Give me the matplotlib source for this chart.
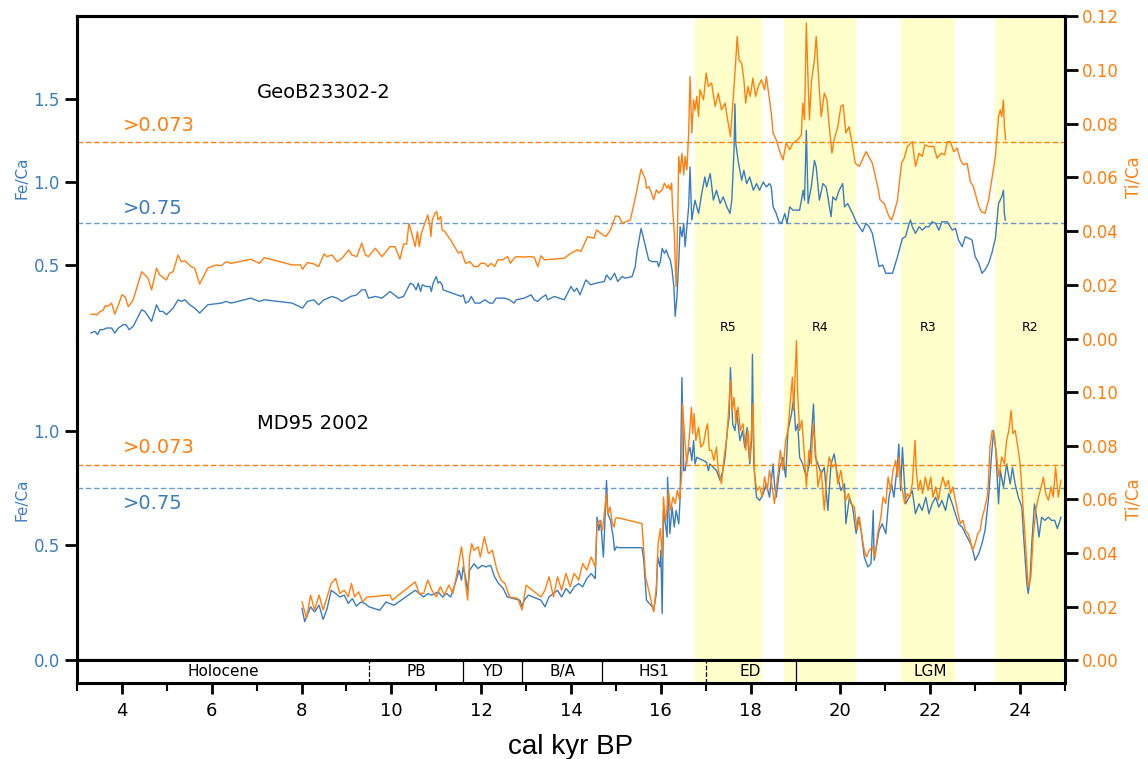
import matplotlib.pyplot as plt
from matplotlib.transforms import blended_transform_factory

BLUE = '#3a7dbd'
ORANGE = '#ff7f0e'

# GeoB23302-2, Fe/Ca
geob_fe_age = [3.31, 3.40, 3.46, 3.51, 3.58, 3.66, 3.77, 3.84, 3.92, 4.03, 4.09, 4.16, 4.25, 4.44, 4.51,
               4.66, 4.77, 4.84, 4.91, 4.99, 5.14, 5.25, 5.32, 5.40, 5.51, 5.62, 5.73, 5.91, 6.21, 6.32,
               6.43, 6.87, 7.06, 7.17, 7.79, 8.02, 8.13, 8.27, 8.38, 8.50, 8.68, 8.79, 8.90, 9.09, 9.23,
               9.34, 9.42, 9.49, 9.64, 9.79, 9.97, 10.16, 10.27, 10.42, 10.49, 10.55, 10.60, 10.65, 10.69,
               10.78, 10.86, 10.89, 10.93, 11.00, 11.04, 11.08, 11.13, 11.15, 11.56, 11.60, 11.65, 11.72,
               11.78, 11.86, 11.97, 12.08, 12.19, 12.26, 12.33, 12.52, 12.63, 12.73, 12.78, 12.96, 13.11,
               13.18, 13.26, 13.33, 13.44, 13.48, 13.63, 13.85, 14.00, 14.07, 14.13, 14.20, 14.33, 14.44,
               14.55, 14.74, 14.79, 14.88, 14.97, 15.04, 15.14, 15.21, 15.36, 15.43, 15.47, 15.56, 15.66,
               15.73, 15.80, 15.92, 15.95, 15.99, 16.03, 16.08, 16.12, 16.17, 16.21, 16.25, 16.29, 16.32,
               16.36, 16.40, 16.43, 16.47, 16.51, 16.54, 16.58, 16.62, 16.65, 16.69, 16.76, 16.84, 16.91,
               16.98, 17.02, 17.10, 17.17, 17.24, 17.32, 17.39, 17.47, 17.54, 17.58, 17.63, 17.65, 17.67,
               17.72, 17.80, 17.85, 17.91, 17.98, 18.06, 18.13, 18.20, 18.28, 18.35, 18.42, 18.46, 18.50,
               18.57, 18.63, 18.69, 18.76, 18.81, 18.87, 18.94, 19.09, 19.17, 19.20, 19.24, 19.28, 19.35,
               19.42, 19.46, 19.53, 19.61, 19.68, 19.72, 19.79, 19.83, 19.90, 19.97, 20.05, 20.09, 20.16,
               20.27, 20.35, 20.42, 20.49, 20.57, 20.64, 20.71, 20.80, 20.86, 20.94, 21.01, 21.16, 21.27,
               21.38, 21.45, 21.53, 21.56, 21.60, 21.67, 21.75, 21.82, 21.90, 21.97, 22.04, 22.12, 22.19,
               22.26, 22.38, 22.49, 22.56, 22.63, 22.71, 22.78, 22.86, 22.93, 23.00, 23.08, 23.15, 23.22,
               23.30, 23.37, 23.45, 23.52, 23.59, 23.63, 23.65, 23.67]
geob_fe = [0.09, 0.10, 0.08, 0.11, 0.11, 0.12, 0.12, 0.09, 0.12, 0.14, 0.14, 0.11, 0.13, 0.23, 0.22,
           0.16, 0.26, 0.22, 0.22, 0.20, 0.24, 0.29, 0.28, 0.29, 0.26, 0.24, 0.21, 0.26, 0.27, 0.28,
           0.27, 0.30, 0.28, 0.29, 0.27, 0.24, 0.28, 0.29, 0.26, 0.29, 0.31, 0.30, 0.28, 0.31, 0.32,
           0.35, 0.35, 0.30, 0.31, 0.30, 0.34, 0.30, 0.31, 0.39, 0.38, 0.35, 0.39, 0.34, 0.38,
           0.37, 0.37, 0.34, 0.39, 0.43, 0.39, 0.40, 0.38, 0.35, 0.31, 0.32, 0.27, 0.28,
           0.31, 0.27, 0.27, 0.29, 0.27, 0.27, 0.30, 0.30, 0.29, 0.27, 0.29, 0.30, 0.32,
           0.29, 0.28, 0.30, 0.32, 0.29, 0.31, 0.29, 0.37, 0.34, 0.36, 0.32, 0.41, 0.38,
           0.39, 0.40, 0.44, 0.41, 0.45, 0.40, 0.43, 0.42, 0.43, 0.49, 0.58, 0.72, 0.61,
           0.53, 0.52, 0.52, 0.49, 0.52, 0.60, 0.57, 0.59, 0.55, 0.53, 0.47, 0.37, 0.19,
           0.31, 0.53, 0.73, 0.67, 0.75, 0.61, 0.73, 0.85, 1.09, 0.77, 0.89, 0.81, 0.93,
           1.03, 0.97, 1.05, 0.89, 0.95, 0.87, 0.91, 0.85, 0.81, 0.89, 1.19, 1.47, 1.23,
           1.13, 1.01, 1.07, 0.99, 1.03, 0.95, 0.99, 0.95, 1.00, 0.97, 0.99, 0.97, 0.85,
           0.81, 0.76, 0.75, 0.81, 0.75, 0.85, 0.83, 0.83, 0.95, 0.89, 1.31, 0.87, 0.97,
           1.13, 1.09, 0.89, 0.99, 0.97, 0.91, 0.79, 0.91, 0.89, 0.95, 0.99, 0.85, 0.87,
           0.81, 0.76, 0.73, 0.70, 0.75, 0.73, 0.69, 0.57, 0.49, 0.50, 0.45, 0.45, 0.55,
           0.66, 0.67, 0.75, 0.77, 0.73, 0.69, 0.73, 0.71, 0.73, 0.73, 0.76, 0.75, 0.71,
           0.76, 0.76, 0.71, 0.72, 0.65, 0.61, 0.67, 0.66, 0.65, 0.55, 0.51, 0.45, 0.47,
           0.51, 0.57, 0.66, 0.87, 0.91, 0.95, 0.81, 0.77]

# GeoB23302-2, Ti/Ca
geob_ti_age = [3.31, 3.40, 3.44, 3.51, 3.59, 3.62, 3.70, 3.77, 3.84, 3.92, 4.00, 4.07, 4.14, 4.25, 4.44,
               4.58, 4.66, 4.77, 4.84, 4.99, 5.06, 5.14, 5.25, 5.32, 5.40, 5.54, 5.62, 5.73, 5.91, 6.10,
               6.21, 6.32, 6.43, 6.87, 7.06, 7.17, 7.79, 7.98, 8.02, 8.13, 8.27, 8.38, 8.50, 8.57, 8.68,
               8.79, 8.90, 9.05, 9.12, 9.23, 9.34, 9.42, 9.49, 9.64, 9.79, 9.97, 10.08, 10.19, 10.27,
               10.34, 10.39, 10.45, 10.53, 10.58, 10.62, 10.67, 10.75, 10.81, 10.86, 10.88, 10.91, 10.97,
               11.01, 11.04, 11.10, 11.13, 11.19, 11.34, 11.49, 11.56, 11.65, 11.75, 11.84, 11.93, 11.99,
               12.08, 12.15, 12.22, 12.30, 12.37, 12.48, 12.59, 12.65, 12.75, 12.85, 12.93, 13.07, 13.18,
               13.26, 13.33, 13.41, 13.85, 14.00, 14.14, 14.22, 14.37, 14.51, 14.57, 14.66, 14.77, 14.88,
               14.99, 15.07, 15.14, 15.32, 15.43, 15.56, 15.66, 15.68, 15.73, 15.78, 15.84, 15.90, 15.95,
               16.03, 16.08, 16.14, 16.17, 16.21, 16.24, 16.26, 16.30, 16.34, 16.36, 16.40, 16.43, 16.47,
               16.51, 16.54, 16.58, 16.62, 16.65, 16.69, 16.73, 16.76, 16.80, 16.84, 16.87, 16.95, 17.01,
               17.06, 17.13, 17.21, 17.28, 17.35, 17.43, 17.50, 17.55, 17.61, 17.66, 17.70, 17.74, 17.80,
               17.85, 17.89, 17.94, 17.99, 18.05, 18.11, 18.17, 18.24, 18.31, 18.35, 18.42, 18.46, 18.50,
               18.57, 18.65, 18.72, 18.79, 18.87, 18.94, 19.05, 19.13, 19.16, 19.20, 19.24, 19.28, 19.31,
               19.35, 19.42, 19.46, 19.50, 19.53, 19.57, 19.64, 19.70, 19.75, 19.81, 19.86, 19.94, 20.01,
               20.06, 20.12, 20.19, 20.27, 20.33, 20.42, 20.57, 20.71, 20.83, 20.88, 20.97, 21.08, 21.14,
               21.19, 21.27, 21.36, 21.42, 21.49, 21.60, 21.67, 21.75, 21.82, 21.88, 21.97, 22.08, 22.15,
               22.25, 22.32, 22.38, 22.45, 22.52, 22.60, 22.67, 22.74, 22.82, 22.89, 22.96, 23.08, 23.14,
               23.22, 23.30, 23.37, 23.45, 23.52, 23.56, 23.59, 23.63, 23.65, 23.68]
geob_ti = [0.0092, 0.0092, 0.0089, 0.0101, 0.0108, 0.0123, 0.0123, 0.0133, 0.0092, 0.0126, 0.0164, 0.0157,
           0.0120, 0.0145, 0.0250, 0.0226, 0.0182, 0.0263, 0.0238, 0.0219, 0.0244, 0.0250, 0.0312, 0.0287,
           0.0290, 0.0269, 0.0263, 0.0204, 0.0263, 0.0275, 0.0272, 0.0287, 0.0281, 0.0296, 0.0281, 0.0302,
           0.0275, 0.0275, 0.0259, 0.0284, 0.0279, 0.0269, 0.0316, 0.0306, 0.0312, 0.0287, 0.0300, 0.0331,
           0.0312, 0.0306, 0.0356, 0.0312, 0.0306, 0.0337, 0.0306, 0.0343, 0.0343, 0.0296, 0.0353, 0.0352,
           0.0430, 0.0393, 0.0343, 0.0399, 0.0343, 0.0393, 0.0432, 0.0461, 0.0417, 0.0380, 0.0442, 0.0467,
           0.0473, 0.0442, 0.0455, 0.0405, 0.0399, 0.0362, 0.0319, 0.0325, 0.0281, 0.0287, 0.0269, 0.0269,
           0.0281, 0.0281, 0.0269, 0.0281, 0.0269, 0.0294, 0.0294, 0.0306, 0.0281, 0.0304, 0.0306, 0.0304,
           0.0306, 0.0304, 0.0269, 0.0309, 0.0294, 0.0300, 0.0319, 0.0331, 0.0325, 0.0380, 0.0374, 0.0405,
           0.0393, 0.0380, 0.0405, 0.0457, 0.0455, 0.0430, 0.0442, 0.0523, 0.0631, 0.0591, 0.0560, 0.0566,
           0.0548, 0.0517, 0.0554, 0.0542, 0.0554, 0.0579, 0.0560, 0.0572, 0.0554, 0.0579, 0.0492, 0.0393,
           0.0194, 0.0319, 0.0678, 0.0616, 0.0690, 0.0610, 0.0678, 0.0628, 0.0765, 0.0975, 0.0765, 0.0888,
           0.0851, 0.0901, 0.0826, 0.0926, 0.0888, 0.0988, 0.0938, 0.0951, 0.0864, 0.0913, 0.0851, 0.0876,
           0.0802, 0.0752, 0.0888, 0.1012, 0.1124, 0.1037, 0.1025, 0.0963, 0.0876, 0.0938, 0.0901, 0.0969,
           0.0901, 0.0938, 0.0963, 0.0926, 0.0975, 0.0888, 0.0839, 0.0765, 0.0740, 0.0696, 0.0665, 0.0728,
           0.0703, 0.0728, 0.0740, 0.0758, 0.0876, 0.0814, 0.1174, 0.0951, 0.0814, 0.0951, 0.1037, 0.1124,
           0.1012, 0.0926, 0.0826, 0.0913, 0.0888, 0.0789, 0.0690, 0.0740, 0.0789, 0.0864, 0.0870, 0.0765,
           0.0789, 0.0715, 0.0653, 0.0641, 0.0696, 0.0653, 0.0566, 0.0517, 0.0504, 0.0455, 0.0442, 0.0467,
           0.0517, 0.0653, 0.0672, 0.0715, 0.0733, 0.0641, 0.0690, 0.0678, 0.0721, 0.0715, 0.0715, 0.0672,
           0.0690, 0.0684, 0.0733, 0.0733, 0.0696, 0.0709, 0.0665, 0.0647, 0.0653, 0.0585, 0.0566, 0.0492,
           0.0473, 0.0467, 0.0517, 0.0591, 0.0678, 0.0826, 0.0851, 0.0826, 0.0888, 0.0789, 0.0740]

# MD95 2002, Fe/Ca
md_fe_age = [8.01, 8.07, 8.20, 8.29, 8.39, 8.48, 8.57, 8.66, 8.76, 8.85, 8.95, 9.04, 9.13, 9.22, 9.32,
             9.41, 9.50, 9.74, 9.88, 10.06, 10.53, 10.72, 10.81, 10.90, 11.04, 11.14, 11.23, 11.32, 11.42,
             11.51, 11.56, 11.60, 11.65, 11.70, 11.74, 11.84, 11.93, 12.02, 12.11, 12.21, 12.30, 12.39,
             12.49, 12.58, 12.72, 12.86, 12.91, 12.96, 13.05, 13.33, 13.42, 13.51, 13.61, 13.70, 13.79,
             13.89, 13.98, 14.07, 14.17, 14.26, 14.35, 14.45, 14.54, 14.58, 14.62, 14.66, 14.72, 14.75,
             14.79, 14.82, 14.88, 14.94, 14.97, 15.01, 15.07, 15.58, 15.62, 15.68, 15.81, 15.84, 15.90,
             15.93, 15.98, 16.00, 16.03, 16.06, 16.10, 16.14, 16.15, 16.20, 16.25, 16.30, 16.34, 16.40,
             16.43, 16.47, 16.51, 16.54, 16.58, 16.65, 16.69, 16.73, 16.76, 16.80, 16.87, 16.95, 17.02,
             17.06, 17.09, 17.17, 17.24, 17.32, 17.38, 17.43, 17.48, 17.52, 17.55, 17.60, 17.65, 17.69,
             17.76, 17.82, 17.87, 17.92, 17.98, 18.02, 18.04, 18.07, 18.13, 18.20, 18.28, 18.35, 18.42,
             18.50, 18.53, 18.57, 18.65, 18.72, 18.78, 18.83, 18.91, 18.96, 19.00, 19.05, 19.09, 19.16,
             19.24, 19.31, 19.40, 19.44, 19.50, 19.57, 19.64, 19.72, 19.79, 19.86, 19.94, 20.01, 20.09,
             20.12, 20.20, 20.27, 20.35, 20.40, 20.46, 20.53, 20.61, 20.68, 20.73, 20.75, 20.80, 20.86,
             20.93, 21.01, 21.08, 21.14, 21.19, 21.27, 21.30, 21.34, 21.38, 21.45, 21.53, 21.60, 21.67,
             21.75, 21.82, 21.90, 21.97, 22.04, 22.12, 22.19, 22.26, 22.34, 22.41, 22.49, 22.56, 22.63,
             22.71, 22.78, 22.86, 22.93, 23.00, 23.08, 23.15, 23.22, 23.30, 23.36, 23.41, 23.46, 23.52,
             23.56, 23.63, 23.70, 23.78, 23.83, 23.89, 23.96, 24.04, 24.07, 24.11, 24.15, 24.18, 24.22,
             24.26, 24.32, 24.37, 24.42, 24.48, 24.55, 24.63, 24.70, 24.77, 24.83, 24.91]
md_fe = [0.225, 0.167, 0.232, 0.210, 0.239, 0.177, 0.225, 0.304, 0.290, 0.275, 0.283, 0.247, 0.268, 0.235,
         0.253, 0.247, 0.232, 0.217, 0.253, 0.239, 0.304, 0.275, 0.290, 0.283, 0.297, 0.275, 0.290, 0.275,
         0.333, 0.391, 0.348, 0.406, 0.362, 0.304, 0.391, 0.420, 0.399, 0.413, 0.406, 0.413, 0.362, 0.333,
         0.312, 0.275, 0.268, 0.261, 0.232, 0.261, 0.283, 0.261, 0.232, 0.275, 0.290, 0.304, 0.275, 0.312,
         0.290, 0.319, 0.333, 0.319, 0.355, 0.377, 0.355, 0.623, 0.565, 0.609, 0.449, 0.580, 0.783, 0.638,
         0.609, 0.536, 0.478, 0.493, 0.490, 0.490, 0.435, 0.261, 0.232, 0.217, 0.290, 0.449, 0.406, 0.478,
         0.203, 0.652, 0.594, 0.536, 0.797, 0.551, 0.667, 0.580, 0.652, 0.594, 0.710, 1.232, 0.826, 0.826,
         0.884, 0.927, 0.870, 0.957, 0.855, 0.884, 0.877, 0.870, 0.862, 0.826, 0.855, 0.840, 0.826, 0.783,
         0.826, 0.884, 1.000, 1.058, 1.275, 1.029, 1.000, 1.087, 0.957, 1.000, 0.927, 1.014, 0.855, 0.957,
         1.333, 0.855, 0.710, 0.696, 0.725, 0.768, 0.710, 0.855, 0.768, 0.710, 0.840, 0.884, 0.797, 1.000,
         1.073, 1.145, 1.000, 1.029, 0.884, 0.855, 0.797, 0.855, 1.116, 0.884, 0.855, 0.812, 0.840, 0.652,
         0.855, 0.899, 0.797, 0.739, 0.768, 0.594, 0.710, 0.667, 0.551, 0.623, 0.565, 0.449, 0.406, 0.420,
         0.652, 0.435, 0.493, 0.565, 0.594, 0.551, 0.710, 0.768, 0.710, 0.855, 0.942, 0.739, 0.927, 0.681,
         0.710, 0.739, 0.638, 0.681, 0.652, 0.710, 0.638, 0.681, 0.710, 0.667, 0.696, 0.652, 0.725, 0.681,
         0.638, 0.594, 0.580, 0.551, 0.522, 0.493, 0.435, 0.464, 0.507, 0.565, 0.710, 0.884, 1.000, 0.913,
         0.681, 0.826, 0.753, 0.855, 0.768, 0.840, 0.768, 0.710, 0.667, 0.565, 0.449, 0.333, 0.290, 0.348,
         0.507, 0.681, 0.623, 0.536, 0.623, 0.609, 0.623, 0.609, 0.609, 0.573, 0.623]

# MD95 2002, Ti/Ca
md_ti_age = [8.01, 8.11, 8.20, 8.29, 8.39, 8.48, 8.57, 8.66, 8.76, 8.85, 8.95, 9.04, 9.11, 9.18, 9.27,
             9.36, 9.46, 9.50, 9.97, 10.02, 10.53, 10.62, 10.72, 10.81, 10.90, 11.00, 11.09, 11.18, 11.28,
             11.37, 11.46, 11.56, 11.60, 11.65, 11.70, 11.74, 11.79, 11.84, 11.93, 11.98, 12.07, 12.16,
             12.25, 12.35, 12.44, 12.53, 12.63, 12.81, 12.91, 13.00, 13.14, 13.33, 13.42, 13.51, 13.61,
             13.70, 13.79, 13.89, 13.98, 14.07, 14.17, 14.26, 14.35, 14.45, 14.54, 14.58, 14.64, 14.70,
             14.75, 14.79, 14.82, 14.87, 14.92, 14.96, 14.99, 15.03, 15.58, 15.66, 15.73, 15.84, 15.90,
             15.94, 15.99, 16.03, 16.06, 16.10, 16.14, 16.17, 16.22, 16.27, 16.32, 16.37, 16.42, 16.47,
             16.48, 16.54, 16.58, 16.64, 16.68, 16.71, 16.74, 16.78, 16.84, 16.89, 16.95, 17.00, 17.04,
             17.08, 17.13, 17.18, 17.24, 17.28, 17.35, 17.41, 17.47, 17.50, 17.55, 17.59, 17.63, 17.67,
             17.72, 17.77, 17.83, 17.89, 17.94, 17.98, 18.02, 18.05, 18.09, 18.14, 18.20, 18.26, 18.31,
             18.37, 18.42, 18.48, 18.53, 18.61, 18.66, 18.72, 18.78, 18.83, 18.89, 18.93, 18.96, 19.00,
             19.02, 19.05, 19.09, 19.14, 19.20, 19.24, 19.30, 19.35, 19.39, 19.44, 19.50, 19.57, 19.64,
             19.70, 19.75, 19.83, 19.89, 19.94, 20.01, 20.06, 20.12, 20.18, 20.23, 20.31, 20.37, 20.42,
             20.48, 20.53, 20.58, 20.64, 20.71, 20.77, 20.83, 20.90, 20.95, 21.01, 21.06, 21.12, 21.17,
             21.23, 21.27, 21.30, 21.34, 21.38, 21.43, 21.49, 21.54, 21.60, 21.66, 21.69, 21.73, 21.78,
             21.83, 21.89, 21.95, 22.01, 22.06, 22.12, 22.18, 22.23, 22.28, 22.34, 22.40, 22.45, 22.50,
             22.56, 22.62, 22.67, 22.73, 22.78, 22.84, 22.89, 22.94, 23.00, 23.06, 23.11, 23.16, 23.22,
             23.28, 23.33, 23.38, 23.42, 23.48, 23.53, 23.59, 23.65, 23.70, 23.75, 23.80, 23.84, 23.89,
             23.95, 24.00, 24.04, 24.10, 24.15, 24.18, 24.24, 24.29, 24.35, 24.41, 24.47, 24.52, 24.57,
             24.63, 24.69, 24.74, 24.79, 24.85, 24.91]
md_ti = [0.0218, 0.0156, 0.0243, 0.0187, 0.0243, 0.0187, 0.0236, 0.0286, 0.0305, 0.0249, 0.0261, 0.0236,
         0.0286, 0.0236, 0.0255, 0.0218, 0.0236, 0.0236, 0.0243, 0.0224, 0.0292, 0.0249, 0.0249, 0.0299,
         0.0261, 0.0236, 0.0274, 0.0243, 0.0280, 0.0249, 0.0324, 0.0423, 0.0373, 0.0286, 0.0224, 0.0385,
         0.0435, 0.0410, 0.0423, 0.0385, 0.0460, 0.0398, 0.0410, 0.0336, 0.0299, 0.0286, 0.0236, 0.0230,
         0.0187, 0.0280, 0.0261, 0.0236, 0.0261, 0.0311, 0.0236, 0.0311, 0.0261, 0.0324, 0.0274, 0.0324,
         0.0299, 0.0361, 0.0336, 0.0385, 0.0348, 0.0510, 0.0522, 0.0485, 0.0560, 0.0622, 0.0547, 0.0572,
         0.0510, 0.0497, 0.0529, 0.0532, 0.0510, 0.0311, 0.0261, 0.0180, 0.0274, 0.0435, 0.0491, 0.0385,
         0.0609, 0.0522, 0.0560, 0.0634, 0.0560, 0.0609, 0.0585, 0.0634, 0.0597, 0.0709, 0.0958, 0.0809,
         0.0734, 0.0846, 0.0945, 0.0846, 0.0921, 0.0821, 0.0871, 0.0796, 0.0809, 0.0858, 0.0883, 0.0784,
         0.0784, 0.0746, 0.0796, 0.0709, 0.0659, 0.0759, 0.0833, 0.0908, 0.1045, 0.0933, 0.0982, 0.0883,
         0.0945, 0.0858, 0.0883, 0.0784, 0.0858, 0.0746, 0.0858, 0.0958, 0.0684, 0.0634, 0.0647, 0.0609,
         0.0684, 0.0634, 0.0709, 0.0647, 0.0585, 0.0697, 0.0784, 0.0709, 0.0821, 0.0858, 0.0982, 0.1057,
         0.0933, 0.1107, 0.1194, 0.0982, 0.0858, 0.0896, 0.0759, 0.0647, 0.0784, 0.0734, 0.0883, 0.0796,
         0.0647, 0.0709, 0.0560, 0.0697, 0.0759, 0.0721, 0.0734, 0.0659, 0.0709, 0.0647, 0.0597, 0.0622,
         0.0585, 0.0572, 0.0485, 0.0535, 0.0460, 0.0410, 0.0385, 0.0410, 0.0423, 0.0385, 0.0473, 0.0535,
         0.0609, 0.0585, 0.0684, 0.0634, 0.0709, 0.0746, 0.0684, 0.0759, 0.0659, 0.0634, 0.0585, 0.0622,
         0.0609, 0.0659, 0.0821, 0.0709, 0.0634, 0.0672, 0.0622, 0.0684, 0.0634, 0.0684, 0.0609, 0.0647,
         0.0597, 0.0647, 0.0684, 0.0647, 0.0672, 0.0622, 0.0647, 0.0597, 0.0547, 0.0510, 0.0522, 0.0485,
         0.0473, 0.0448, 0.0410, 0.0435, 0.0473, 0.0485, 0.0535, 0.0572, 0.0622, 0.0796, 0.0858, 0.0846,
         0.0759, 0.0684, 0.0759, 0.0734, 0.0821, 0.0858, 0.0933, 0.0846, 0.0858, 0.0796, 0.0734, 0.0634,
         0.0485, 0.0361, 0.0274, 0.0311, 0.0460, 0.0560, 0.0609, 0.0647, 0.0684, 0.0622, 0.0597, 0.0647,
         0.0609, 0.0721, 0.0609, 0.0672]

fe_threshold = 0.75
ti_threshold = 0.073

r_names = ['R5', 'R4', 'R3', 'R2']
r_start = [16.75, 18.75, 21.35, 23.45]
r_end = [18.25, 20.35, 22.55, 25.0]

periods = ['Holocene', 'PB', 'YD', 'B/A', 'HS1', 'ED', 'LGM']
period_edges = [3.0, 9.5, 11.6, 12.9, 14.7, 17.0, 19.0, 25.0]
edge_dashed = [True, False, False, False, True, False]

XMIN, XMAX = 3, 25

fig = plt.figure(figsize=(11.48, 7.59), dpi=100)


def shade(ax):
    for a, b in zip(r_start, r_end):
        ax.axvspan(a, b, color='yellow', alpha=0.2, lw=0)


def style_panel(ax, ax2, top):
    for a in (ax, ax2):
        a.set_xlim(XMIN, XMAX)
        a.tick_params(axis='x', bottom=False, labelbottom=False)
        for s in a.spines.values():
            s.set_linewidth(2.2)
        if top:
            a.spines['bottom'].set_visible(False)
        else:
            a.spines['top'].set_visible(False)
    ax.tick_params(axis='y', direction='out', length=9, width=2, color='k',
                   labelcolor=BLUE, labelsize=12)
    ax2.tick_params(axis='y', direction='out', length=9, width=2, color='k',
                    labelcolor=ORANGE, labelsize=12)
    ax.set_ylabel('Fe/Ca', color=BLUE, fontsize=11, labelpad=3)
    ax2.set_ylabel('Ti/Ca', color=ORANGE, fontsize=12, labelpad=4)


# top panel: GeoB23302-2
ax_top = fig.add_axes([0.0671, 0.5534, 0.8606, 0.4256])
ax_top2 = ax_top.twinx()
shade(ax_top)
ax_top.plot(geob_fe_age, geob_fe, color=BLUE, lw=1)
ax_top2.plot(geob_ti_age, geob_ti, color=ORANGE, lw=1)
ax_top.axhline(fe_threshold, color=BLUE, ls=(0, (4, 2)), lw=1, alpha=0.75)
ax_top2.axhline(ti_threshold, color=ORANGE, ls=(0, (4, 2)), lw=1)
ax_top.set_ylim(0.054, 2.0)
ax_top.set_yticks([0.5, 1.0, 1.5])
ax_top2.set_ylim(0, 0.12)
ax_top2.set_yticks([0.0, 0.02, 0.04, 0.06, 0.08, 0.10, 0.12])
ax_top2.set_yticklabels(['0.00', '0.02', '0.04', '0.06', '0.08', '0.10', '0.12'])
style_panel(ax_top, ax_top2, True)
ax_top.text(7.0, 1.54, 'GeoB23302-2', fontsize=14, va='center')
ax_top.text(4.02, 1.34, '>0.073', fontsize=14, color=ORANGE, va='center')
ax_top.text(4.02, 0.84, '>0.75', fontsize=14, color=BLUE, va='center')
trans = blended_transform_factory(ax_top.transData, ax_top.transAxes)
for name, a, b in zip(r_names, r_start, r_end):
    ax_top.text((a + b) / 2, 0.035, name, transform=trans, ha='center', va='center', fontsize=9)

# bottom panel: MD95 2002
ax_bot = fig.add_axes([0.0671, 0.1304, 0.8606, 0.4230])
ax_bot2 = ax_bot.twinx()
shade(ax_bot)
ax_bot.plot(md_fe_age, md_fe, color=BLUE, lw=1)
ax_bot2.plot(md_ti_age, md_ti, color=ORANGE, lw=1)
ax_bot.axhline(fe_threshold, color=BLUE, ls=(0, (4, 2)), lw=1, alpha=0.75)
ax_bot2.axhline(ti_threshold, color=ORANGE, ls=(0, (4, 2)), lw=1)
ax_bot.set_ylim(0, 1.4)
ax_bot.set_yticks([0.0, 0.5, 1.0])
ax_bot2.set_ylim(0, 0.12)
ax_bot2.set_yticks([0.0, 0.02, 0.04, 0.06, 0.08, 0.10])
ax_bot2.set_yticklabels(['0.00', '0.02', '0.04', '0.06', '0.08', '0.10'])
style_panel(ax_bot, ax_bot2, False)
ax_bot.text(7.0, 1.03, 'MD95 2002', fontsize=14, va='center')
ax_bot.text(4.02, 0.926, '>0.073', fontsize=14, color=ORANGE, va='center')
ax_bot.text(4.02, 0.683, '>0.75', fontsize=14, color=BLUE, va='center')

# chronology strip
ax_ch = fig.add_axes([0.0671, 0.1001, 0.8606, 0.0303])
shade(ax_ch)
ax_ch.set_xlim(XMIN, XMAX)
ax_ch.set_ylim(0, 1)
ax_ch.set_yticks([])
for s in ax_ch.spines.values():
    s.set_linewidth(2.2)
for edge, dashed in zip(period_edges[1:-1], edge_dashed):
    ax_ch.axvline(edge, color='k', lw=0.9, ls='--' if dashed else '-')
for name, a, b in zip(periods, period_edges[:-1], period_edges[1:]):
    ax_ch.text((a + b) / 2, 0.5, name, ha='center', va='center', fontsize=11)
ax_ch.set_xticks(range(4, 25, 2))
ax_ch.set_xticks(range(3, 26, 2), minor=True)
ax_ch.tick_params(axis='x', which='major', length=8, width=2, labelsize=13, pad=6)
ax_ch.tick_params(axis='x', which='minor', length=6, width=1.5)
ax_ch.set_xlabel('cal kyr BP', fontsize=20, family='Liberation Sans', labelpad=10)

fig.savefig('out.png', dpi=100)
